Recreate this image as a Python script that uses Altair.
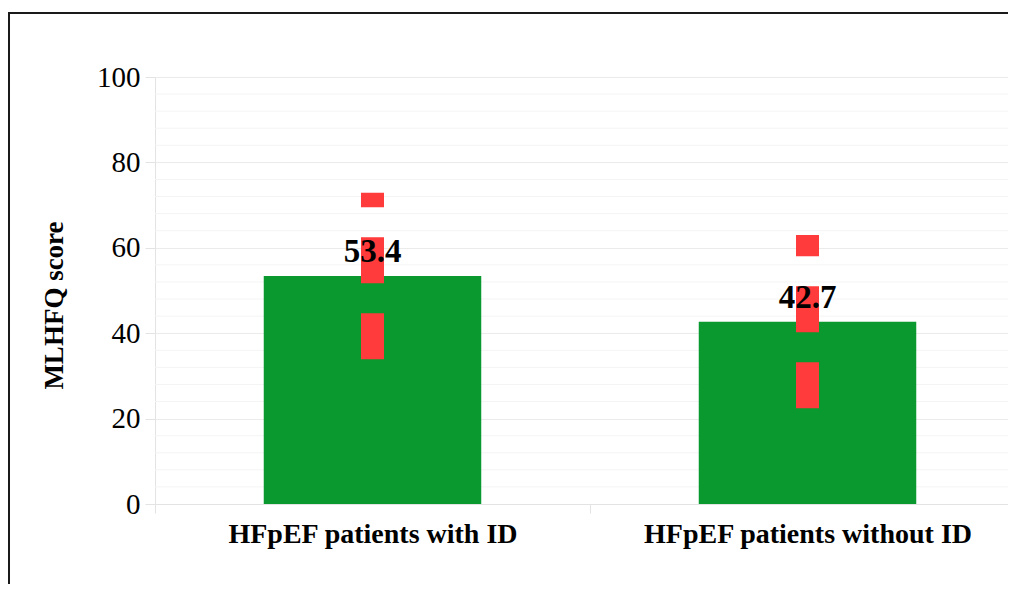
import altair as alt
import pandas as pd

groups = ["HFpEF patients with ID", "HFpEF patients without ID"]
means = [53.4, 42.7]
lower = [33.9, 22.4]
upper = [72.9, 63.0]
major_ticks = [0, 20, 40, 60, 80, 100]
minor_ticks = [4, 8, 12, 16, 24, 28, 32, 36, 44, 48, 52, 56, 64, 68, 72, 76, 84, 88, 92, 96]

df = pd.DataFrame({
    "group": groups,
    "mean": means,
    "lower": lower,
    "upper": upper,
    "label": [f"{m:.1f}" for m in means],
})
grid_df = pd.DataFrame({"v": minor_ticks})
one = pd.DataFrame({"a": [0]})

SERIF = "Liberation Serif, Times New Roman, DejaVu Serif, serif"

yscale = alt.Scale(domain=[0, 100], nice=False)
xscale = alt.Scale(range=[0, 870], paddingInner=0, paddingOuter=0)

xaxis = alt.Axis(
    title=None, labelAngle=0, tickBand="extent", grid=False, labelLimit=0,
    labelFont=SERIF, labelFontWeight="bold", labelFontSize=28,
    labelColor="black", labelPadding=7, tickSize=9,
    tickColor="#e3e3e3", domainColor="#e3e3e3",
)
yaxis = alt.Axis(
    values=major_ticks, title="MLHFQ score",
    labelFont=SERIF, labelFontSize=29, labelColor="black",
    labelPadding=5, tickSize=10, tickColor="#e3e3e3",
    domainColor="#e3e3e3", gridColor="#ebebeb",
    titleFont=SERIF, titleFontSize=27, titleFontWeight="bold",
    titleColor="black", titleAngle=270, titleX=-93, titleY=228,
    titleAlign="center", titleBaseline="alphabetic",
)

grid = alt.Chart(grid_df).mark_rule(color="#f4f4f4", strokeWidth=1).encode(
    y=alt.Y("v:Q", scale=yscale, axis=yaxis)
)

bars = alt.Chart(df).mark_bar(color="#0a992f", width=alt.RelativeBandSize(0.5)).encode(
    x=alt.X("group:N", sort=groups, scale=xscale, axis=xaxis),
    y=alt.Y("mean:Q", scale=yscale, axis=yaxis),
)

err = alt.Chart(df).mark_rule(
    color="#ff3b3b", strokeWidth=23, strokeDash=[46, 30], strokeCap="butt"
).encode(
    x=alt.X("group:N", sort=groups, scale=xscale, axis=xaxis),
    y=alt.Y("lower:Q", scale=yscale, axis=yaxis),
    y2="upper:Q",
)

text = alt.Chart(df).mark_text(
    font=SERIF, fontSize=33, fontWeight="bold",
    baseline="alphabetic", dy=-14, color="black",
).encode(
    x=alt.X("group:N", sort=groups, scale=xscale, axis=xaxis),
    y=alt.Y("mean:Q", scale=yscale, axis=yaxis),
    text="label:N",
)

frame_top = alt.Chart(one).mark_rule(color="#1a1a1a", strokeWidth=2).encode(
    x=alt.value(-147), x2=alt.value(860), y=alt.value(-64)
)
frame_left = alt.Chart(one).mark_rule(color="#1a1a1a", strokeWidth=2).encode(
    x=alt.value(-146), y=alt.value(-65), y2=alt.value(520)
)

chart = alt.layer(grid, bars, err, text, frame_top, frame_left).properties(
    width=853, height=427,
    autosize=alt.AutoSizeParams(type="none"),
    padding={"left": 147, "top": 69, "right": 0, "bottom": 80},
).configure_view(stroke=None)

chart.save("out.html", embed_options={"renderer": "svg", "actions": False})
